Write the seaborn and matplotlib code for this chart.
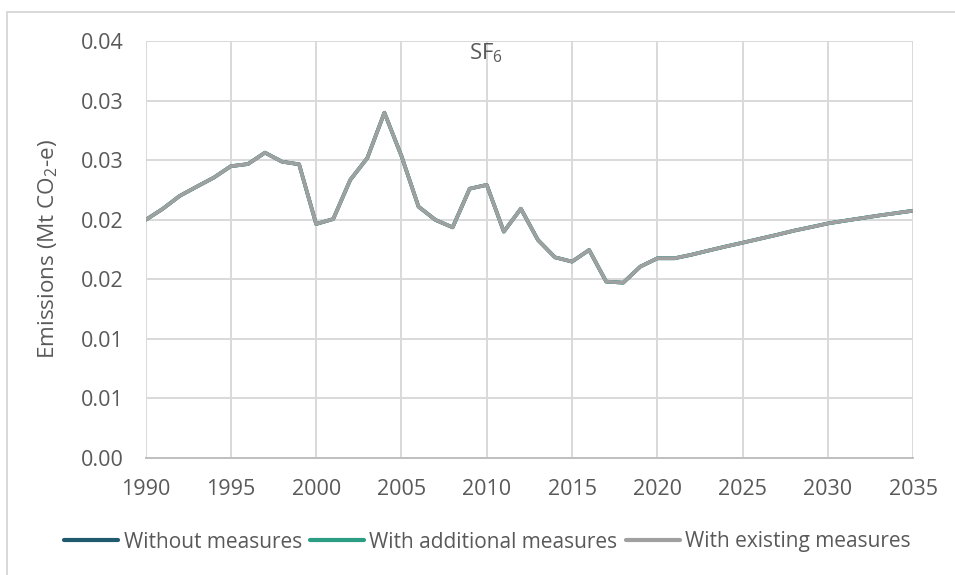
import matplotlib
matplotlib.use("Agg")
import matplotlib.pyplot as plt
import matplotlib.patches as mpatches
import numpy as np
import pandas as pd
import seaborn as sns

# --- data -----------------------------------------------------------------
years = list(range(1990, 2036))

# SF6 emissions, Mt CO2-e (historical 1990-2021, projections thereafter)
without_measures = [
    0.01998, 0.02091, 0.02200, 0.02278, 0.02354, 0.02450, 0.02468, 0.02564,
    0.02488, 0.02466, 0.01964, 0.02006, 0.02335, 0.02519, 0.02900, 0.02536,
    0.02110, 0.01998, 0.01936, 0.02261, 0.02293, 0.01900, 0.02093, 0.01830,
    0.01684, 0.01648, 0.01746, 0.01480, 0.01471, 0.01606, 0.01676, 0.01676,
    0.01706, 0.01741, 0.01775, 0.01807, 0.01840, 0.01873, 0.01908, 0.01938,
    0.01969, 0.01992, 0.02014, 0.02036, 0.02056, 0.02076,
]
with_additional_measures = list(without_measures)
with_existing_measures = list(without_measures)

scenarios = ["Without measures", "With additional measures", "With existing measures"]
scenario_colors = ["#1F5A6E", "#2A9D82", "#A0A0A0"]

x_ticks = [1990, 1995, 2000, 2005, 2010, 2015, 2020, 2025, 2030, 2035]
y_ticks = [0.0, 0.005, 0.01, 0.015, 0.02, 0.025, 0.03, 0.035]
y_tick_labels = ["0.00", "0.01", "0.01", "0.02", "0.02", "0.03", "0.03", "0.04"]

df = pd.DataFrame({
    "Year": years * 3,
    "Emissions": without_measures + with_additional_measures + with_existing_measures,
    "Scenario": np.repeat(scenarios, len(years)),
})

# --- style ----------------------------------------------------------------
sns.set_theme(style="white")
plt.rcParams["font.family"] = ["Open Sans", "DejaVu Sans"]
plt.rcParams["mathtext.fontset"] = "custom"
plt.rcParams["mathtext.rm"] = "Open Sans"
plt.rcParams["mathtext.it"] = "Open Sans"
plt.rcParams["mathtext.default"] = "regular"
text_color = "#595959"
grid_color = "#D9D9D9"
fs = 15.5

fig = plt.figure(figsize=(9.55, 5.75), dpi=100)
ax = fig.add_axes([0.1524, 0.204, 0.8039, 0.7242])

sns.lineplot(
    data=df, x="Year", y="Emissions", hue="Scenario",
    hue_order=scenarios, palette=scenario_colors,
    linewidth=2.6, ax=ax, legend=False, sort=False,
)

ax.set_xlim(1990, 2035)
ax.set_ylim(0, 0.035)
ax.set_xticks(x_ticks)
ax.set_xticklabels([str(t) for t in x_ticks])
ax.set_yticks(y_ticks)
ax.set_yticklabels(y_tick_labels)
ax.tick_params(axis="both", length=0, labelsize=fs, labelcolor=text_color)
ax.tick_params(axis="y", pad=16)
ax.tick_params(axis="x", pad=15)

ax.grid(True, color=grid_color, linewidth=1.4)
ax.set_axisbelow(True)
for side in ["top", "right", "left"]:
    ax.spines[side].set_visible(False)
ax.spines["bottom"].set_color("#BFBFBF")
ax.spines["bottom"].set_linewidth(1.4)

ax.set_xlabel("")
ax.set_ylabel("Emissions (Mt CO$_2$-e)", fontsize=16.2, color=text_color, labelpad=15)

fig.text(486 / 955, 1 - 53 / 575, "SF$_6$", fontsize=16, color=text_color,
         ha="center", va="center")

# legend below the plot area
handles = [plt.Line2D([], [], color=c, linewidth=3, solid_capstyle="round")
           for c in scenario_colors]
fig.legend(handles, scenarios, loc="center", bbox_to_anchor=(0.5105, 1 - 542 / 575),
           ncol=3, frameon=False, fontsize=15, labelcolor=text_color,
           handlelength=2.6, handletextpad=0.25, columnspacing=0.4,
           borderaxespad=0)

# chart frame
fig.patches.append(mpatches.Rectangle(
    (7 / 955, -0.1), 1.1, 1 - 12 / 575 + 0.1, transform=fig.transFigure,
    fill=False, edgecolor="#D9D9D9", linewidth=1.4))

fig.savefig("out.png", dpi=100)
